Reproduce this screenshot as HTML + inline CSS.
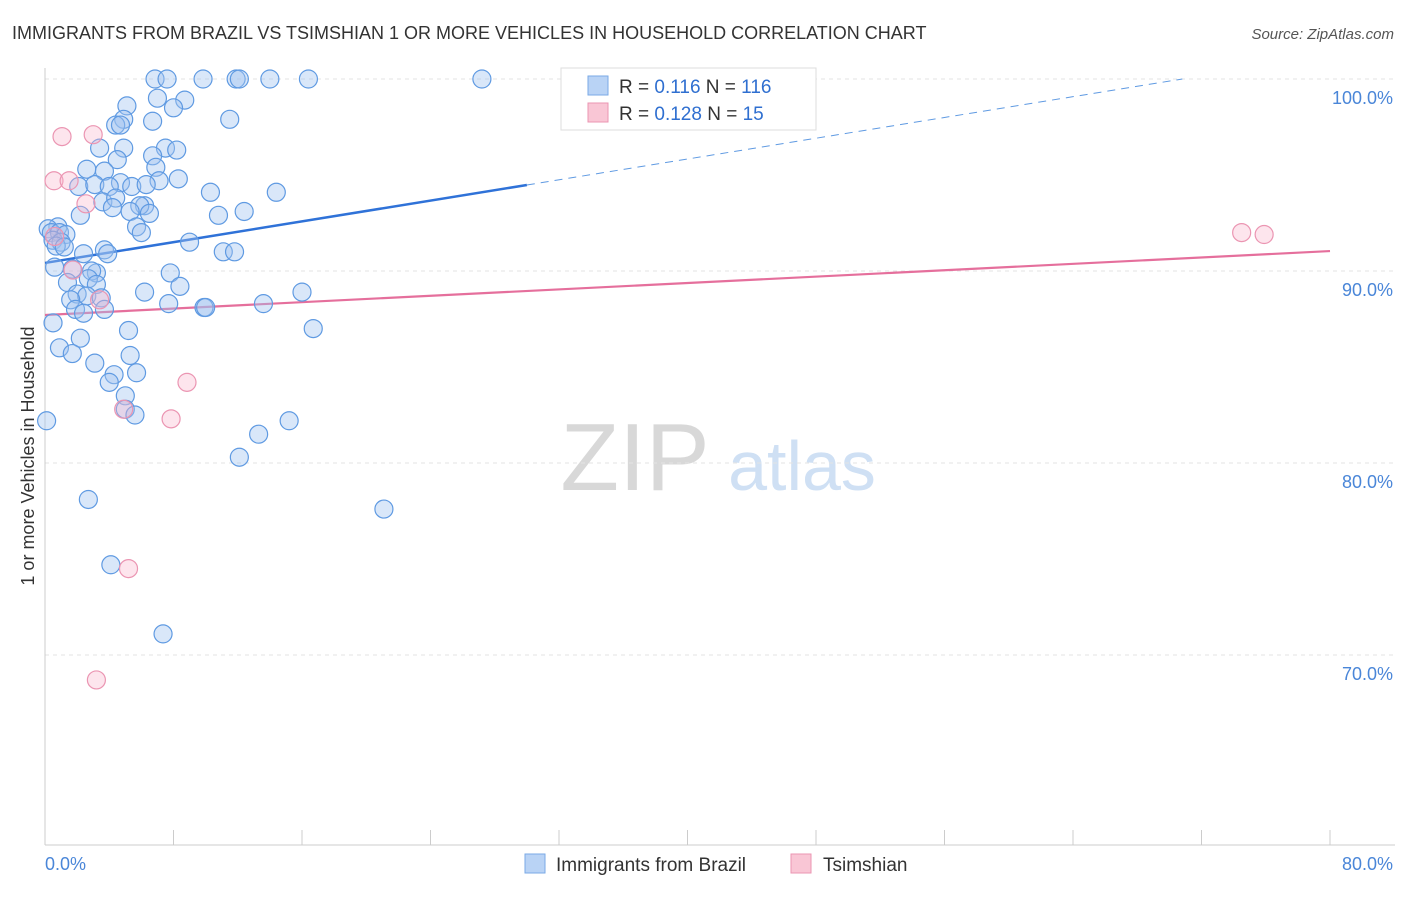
<!DOCTYPE html>
<html><head><meta charset="utf-8">
<style>
body{margin:0;background:#fff;font-family:"Liberation Sans",sans-serif;}
svg text{font-family:"Liberation Sans",sans-serif;}
</style></head>
<body>
<svg id="chart" width="1406" height="892" viewBox="0 0 1406 892" xmlns="http://www.w3.org/2000/svg">
<text x="12" y="39" font-size="18" fill="#333">IMMIGRANTS FROM BRAZIL VS TSIMSHIAN 1 OR MORE VEHICLES IN HOUSEHOLD CORRELATION CHART</text>
<text x="1394" y="39" font-size="15" fill="#555" text-anchor="end" font-style="italic">Source: ZipAtlas.com</text>
<text transform="translate(34,456) rotate(-90)" font-size="18" fill="#333" text-anchor="middle">1 or more Vehicles in Household</text>
<g>
<text x="635" y="490" font-size="96" fill="#d8d8d8" text-anchor="middle" font-family="Liberation Serif, serif">ZIP</text>
<text x="802" y="490" font-size="70" fill="#cfe0f4" text-anchor="middle">atlas</text>
</g>
<g id="grid"></g>
<g id="axes"></g>
<g id="trends"></g>
<g id="points"></g>
<g>
<rect x="561" y="68" width="255" height="62" fill="#fff" stroke="#ddd"/>
<rect x="588" y="76" width="20" height="19" fill="#b9d3f5" stroke="#7aa9e6"/>
<text x="619" y="93" font-size="19" fill="#333">R = <tspan fill="#2f6fd0">0.116</tspan>   N = <tspan fill="#2f6fd0">116</tspan></text>
<rect x="588" y="103" width="20" height="19" fill="#f9c6d5" stroke="#eb95b2"/>
<text x="619" y="120" font-size="19" fill="#333">R = <tspan fill="#2f6fd0">0.128</tspan>   N = <tspan fill="#2f6fd0"> 15</tspan></text>
</g>
<g>
<rect x="525" y="854" width="20" height="19" fill="#b9d3f5" stroke="#7aa9e6"/>
<text x="556" y="871" font-size="19" fill="#333">Immigrants from Brazil</text>
<rect x="791" y="854" width="20" height="19" fill="#f9c6d5" stroke="#eb95b2"/>
<text x="823" y="871" font-size="19" fill="#333">Tsimshian</text>
</g>
</svg>
<script>
const blueX=[6.85,7.6,9.84,11.9,12.1,14.0,16.4,27.2,5.1,7.0,8.7,8.0,11.5,4.9,4.4,4.7,6.7,3.4,4.9,7.5,8.2,6.7,4.5,6.9,2.6,3.7,8.3,7.1,4.7,5.4,6.3,2.1,3.1,4.0,10.3,14.4,3.6,4.4,6.2,5.9,4.2,5.3,6.5,2.2,10.8,12.4,5.7,6.0,0.8,0.2,0.4,0.9,1.3,0.5,1.0,0.7,1.2,9.0,3.7,2.4,3.9,11.1,11.8,0.6,1.7,3.2,2.9,7.8,1.4,2.7,3.2,8.4,6.2,2.0,2.6,1.6,3.5,7.7,9.9,10.0,13.6,16.0,1.9,2.4,3.7,0.5,5.2,16.7,2.2,0.9,1.7,5.3,3.1,5.7,4.3,4.0,5.0,5.0,5.6,0.1,13.3,15.2,12.1,2.7,21.1,4.1,7.35];
const blueY=[100,100,100,100,100,100,100,100,98.6,99.0,98.9,98.5,97.9,97.9,97.6,97.6,97.8,96.4,96.4,96.4,96.3,96.0,95.8,95.4,95.3,95.2,94.8,94.7,94.6,94.4,94.5,94.4,94.5,94.4,94.1,94.1,93.6,93.8,93.4,93.4,93.3,93.1,93.0,92.9,92.9,93.1,92.3,92.0,92.3,92.2,92.0,92.0,91.9,91.6,91.5,91.3,91.25,91.5,91.1,90.9,90.9,91.0,91.0,90.2,90.1,89.9,90.0,89.9,89.4,89.6,89.3,89.2,88.9,88.8,88.7,88.5,88.6,88.3,88.1,88.1,88.3,88.9,88.0,87.8,88.0,87.3,86.9,87.0,86.5,86.0,85.7,85.6,85.2,84.7,84.6,84.2,83.5,82.8,82.5,82.2,81.5,82.2,80.3,78.1,77.6,74.7,71.1];
const pinkX=[1.06,3.0,0.56,1.5,2.55,0.6,1.74,3.4,8.84,4.9,7.85,5.2,3.2,74.5,75.9];
const pinkY=[97.0,97.1,94.7,94.7,93.5,91.8,90.05,88.5,84.2,82.8,82.3,74.5,68.7,92.0,91.9];
const yTicks=[100,90,80,70];
const yTickLabels=["100.0%","90.0%","80.0%","70.0%"];
const xTicks=[0,8,16,24,32,40,48,56,64,72,80];
const blueTrend=[90.42,0.1353]; // intercept, slope
const pinkTrend=[87.71,0.0416];
const NS="http://www.w3.org/2000/svg";
const X0=45,X1=1330,Y100=79,PX10=192;
const sx=v=>X0+(X1-X0)*v/80;
const sy=v=>Y100+(100-v)*PX10/10;
function mk(tag,attrs,parent){const e=document.createElementNS(NS,tag);for(const k in attrs)e.setAttribute(k,attrs[k]);document.getElementById(parent).appendChild(e);return e;}
yTicks.forEach((t,i)=>{
  const g=mk('line',{x1:X0,x2:1395,y1:sy(t),y2:sy(t),stroke:'#e3e3e3','stroke-dasharray':'4,4'},'grid');
  
  
  const l=mk('text',{x:1393,y:sy(t)+25,'font-size':18,fill:'#4a86d8','text-anchor':'end'},'axes');
  l.textContent=yTickLabels[i];
  
  
});
const ax=mk('line',{x1:X0,x2:1395,y1:845,y2:845,stroke:'#ccc'},'axes');


const ay=mk('line',{x1:X0,x2:X0,y1:68,y2:845,stroke:'#ccc'},'axes');


xTicks.forEach(t=>{
  const tk=mk('line',{x1:sx(t),x2:sx(t),y1:830,y2:845,stroke:'#ccc'},'axes');
  
  
});
const xl0=mk('text',{x:45,y:870,'font-size':18,fill:'#4a86d8'},'axes');xl0.textContent='0.0%';


const xl1=mk('text',{x:1393,y:870,'font-size':18,fill:'#4a86d8','text-anchor':'end'},'axes');xl1.textContent='80.0%';


blueX.forEach((v,i)=>{
  const c=mk('circle',{cx:sx(v),cy:sy(blueY[i]),r:9,fill:'rgba(160,196,240,0.4)',stroke:'#5f9ae2','stroke-width':1.2},'points');
  
  
});
pinkX.forEach((v,i)=>{
  const c=mk('circle',{cx:sx(v),cy:sy(pinkY[i]),r:9,fill:'rgba(248,180,202,0.35)',stroke:'#eb95b2','stroke-width':1.2},'points');
  
  
});
const bEnd=30,bDashEnd=(100-blueTrend[0])/blueTrend[1];
const b1=mk('line',{x1:sx(0),y1:sy(blueTrend[0]),x2:sx(bEnd),y2:sy(blueTrend[0]+blueTrend[1]*bEnd),stroke:'#2f72d8','stroke-width':2.5},'trends');


const b2=mk('line',{x1:sx(bEnd),y1:sy(blueTrend[0]+blueTrend[1]*bEnd),x2:sx(bDashEnd),y2:sy(100),stroke:'#5f9ae2','stroke-width':1,'stroke-dasharray':'8,6'},'trends');


const p1=mk('line',{x1:sx(0),y1:sy(pinkTrend[0]),x2:sx(80),y2:sy(pinkTrend[0]+pinkTrend[1]*80),stroke:'#e56f9c','stroke-width':2.2},'trends');


</script>
</body></html>
